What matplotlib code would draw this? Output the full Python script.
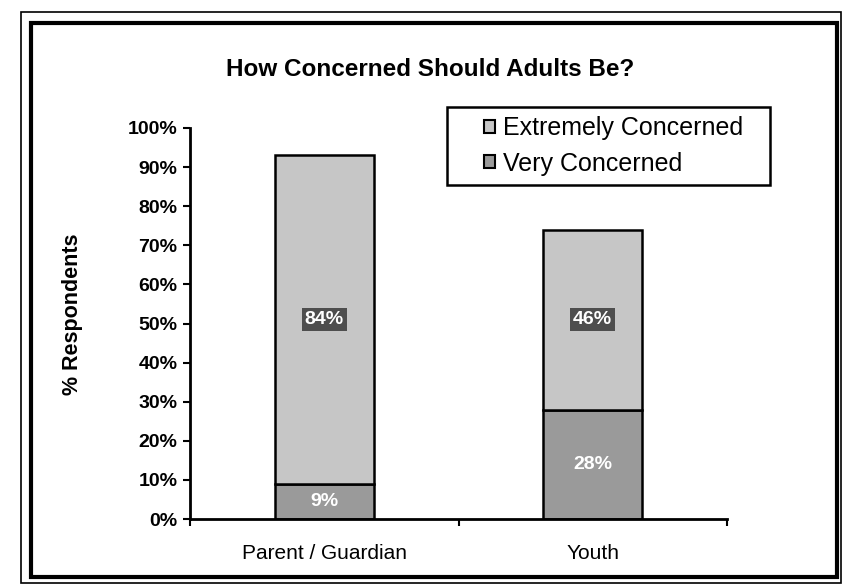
import matplotlib
matplotlib.use("Agg")
import matplotlib.pyplot as plt
from matplotlib.patches import Rectangle, Patch
from matplotlib.ticker import PercentFormatter

# ── data ─────────────────────────────────────────────────────────────────────
groups     = ["Parent / Guardian", "Youth"]
very       = [9, 28]          # Very Concerned
extremely  = [84, 46]         # Extremely Concerned
series     = ["Extremely Concerned", "Very Concerned"]
# ─────────────────────────────────────────────────────────────────────────────

plt.rcParams["font.family"] = ["Liberation Sans", "DejaVu Sans"]

C_EXT  = "#c6c6c6"
C_VERY = "#9a9a9a"
W, H = 845, 584


def fx(px):  return px / W
def fy(py):  return 1 - py / H


fig = plt.figure(figsize=(W / 100, H / 100), dpi=100)
ax = fig.add_axes([fx(190), fy(519), (727 - 190) / W, (519 - 128) / H])

x = range(len(groups))
bw = 0.37
ax.bar(x, very, bw, color=C_VERY, edgecolor="black", linewidth=1.8)
ax.bar(x, extremely, bw, bottom=very, color=C_EXT, edgecolor="black", linewidth=1.8)

for i in x:
    ax.text(i, very[i] / 2, f"{very[i]}%", ha="center", va="center",
            color="white", fontsize=14, fontweight="bold")
    ax.text(i, very[i] + extremely[i] / 2, f"{extremely[i]}%", ha="center",
            va="center", color="white", fontsize=14, fontweight="bold",
            bbox=dict(boxstyle="square,pad=0.15", fc="#4e4e4e", ec="none"))

ax.set_xlim(-0.5, 1.5)
ax.set_ylim(0, 100)
ax.set_yticks(range(0, 101, 10))
ax.yaxis.set_major_formatter(PercentFormatter(decimals=0))
for lab in ax.get_yticklabels():
    lab.set_fontweight("bold")
ax.tick_params(axis="y", labelsize=14, length=5, width=1.5, direction="out", pad=4)
ax.set_xticks(list(x))
ax.set_xticklabels(groups, fontsize=15)
ax.tick_params(axis="x", length=0, pad=18)
# category boundary ticks
ax.set_xticks([-0.5, 0.5, 1.5], minor=True)
ax.tick_params(axis="x", which="minor", length=5, width=1.5)

for s in ["top", "right"]:
    ax.spines[s].set_visible(False)
for s in ["left", "bottom"]:
    ax.spines[s].set_linewidth(2)

ax.set_ylabel("% Respondents", fontsize=15.5, fontweight="bold")
ax.yaxis.set_label_coords((83 - 190) / (727 - 190), 0.523)
fig.text(fx(430), fy(70), "How Concerned Should Adults Be?",
         ha="center", va="center", fontsize=17.5, fontweight="bold")

# legend box drawn separately so the entries can sit inset like the original
fig.patches.append(Rectangle((fx(447), fy(185)), (770 - 447) / W, (185 - 107) / H,
                             transform=fig.transFigure, fc="white",
                             ec="black", lw=1.8, zorder=5))
handles = [Patch(fc=C_EXT, ec="black", lw=1.5), Patch(fc=C_VERY, ec="black", lw=1.5)]
leg = fig.legend(handles, series, loc="center left",
                 bbox_to_anchor=(fx(484), fy(146)), fontsize=18,
                 frameon=False, handlelength=0.45, handleheight=0.45,
                 handletextpad=0.3, labelspacing=0.45, borderpad=0,
                 borderaxespad=0)
leg.set_zorder(6)

# outer double frame
fig.patches.append(Rectangle((fx(21), fy(583)), 820 / W, 571 / H,
                             transform=fig.transFigure, fill=False,
                             ec="black", lw=1.2))
fig.patches.append(Rectangle((fx(31), fy(577)), 806 / W, 554 / H,
                             transform=fig.transFigure, fill=False,
                             ec="black", lw=3))

fig.savefig("out.png", dpi=100)
